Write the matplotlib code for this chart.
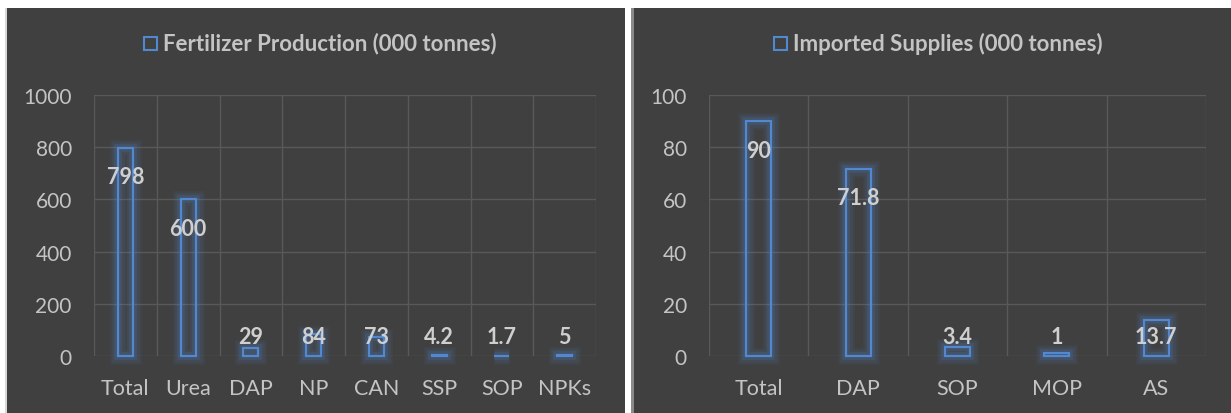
import matplotlib
matplotlib.use('Agg')
import matplotlib.pyplot as plt
from matplotlib import patheffects as pe
from matplotlib.patches import Rectangle

# ---- data ----
prod_categories = ['Total', 'Urea', 'DAP', 'NP', 'CAN', 'SSP', 'SOP', 'NPKs']
prod_values = [798, 600, 29, 84, 73, 4.2, 1.7, 5]
prod_labels = ['798', '600', '29', '84', '73', '4.2', '1.7', '5']
prod_yticks = [0, 200, 400, 600, 800, 1000]
prod_title = 'Fertilizer Production (000 tonnes)'

imp_categories = ['Total', 'DAP', 'SOP', 'MOP', 'AS']
imp_values = [90, 71.8, 3.4, 1, 13.7]
imp_labels = ['90', '71.8', '3.4', '1', '13.7']
imp_yticks = [0, 20, 40, 60, 80, 100]
imp_title = 'Imported Supplies (000 tonnes)'

# ---- style ----
W, H = 1231, 414
BG = '#404040'
GRID = '#595959'
TXT = '#c4c4c4'
LBL = '#cfcfcf'
BLUE = '#5288cf'
FONT = ['Lato', 'DejaVu Sans']
plt.rcParams['font.family'] = FONT

fig = plt.figure(figsize=(W / 100, H / 100), dpi=100, facecolor='white')


def fx(px):
    return px / W


def fy(py):  # py measured from top
    return 1 - py / H


# panels
fig.patches.append(Rectangle((fx(5), 0), fx(2), fy(9), transform=fig.transFigure,
                             facecolor='#d8d8d8', edgecolor='none', zorder=-11))
fig.patches.append(Rectangle((fx(7), 0), fx(625 - 7), fy(9), transform=fig.transFigure,
                             facecolor=BG, edgecolor='none', zorder=-10))
fig.patches.append(Rectangle((fx(631), 0), fx(3), fy(9), transform=fig.transFigure,
                             facecolor='#8a8a8a', edgecolor='none', zorder=-11))
fig.patches.append(Rectangle((fx(634), 0), fx(W - 634), fy(9), transform=fig.transFigure,
                             facecolor=BG, edgecolor='none', zorder=-10))

glow = [pe.Stroke(linewidth=12, foreground=BLUE, alpha=0.06),
        pe.Stroke(linewidth=9, foreground=BLUE, alpha=0.10),
        pe.Stroke(linewidth=5.5, foreground=BLUE, alpha=0.16),
        pe.Normal()]


def make_panel(rect, cats, vals, labels, yticks, title, title_sq_x, title_txt_x,
               bar_w, ylab_pad):
    ax = fig.add_axes(rect)
    ax.set_facecolor('none')
    n = len(cats)
    x = list(range(n))
    ax.set_xlim(-0.5, n - 0.5)
    ax.set_ylim(yticks[0], yticks[-1])
    ax.set_yticks(yticks)
    ax.set_yticklabels([str(t) for t in yticks])
    ax.set_xticks(x)
    ax.set_xticklabels(cats)
    ax.set_xticks([i - 0.5 for i in range(n + 1)], minor=True)
    ax.tick_params(axis='both', which='both', length=0, colors=TXT)
    ax.tick_params(axis='y', pad=ylab_pad, labelsize=15)
    ax.tick_params(axis='x', pad=16, labelsize=15.5)
    for s in ax.spines.values():
        s.set_visible(False)
    ax.set_axisbelow(True)
    ax.yaxis.grid(True, color=GRID, linewidth=1)
    ax.xaxis.grid(True, which='minor', color=GRID, linewidth=1)
    ax.xaxis.grid(False, which='major')

    bars = ax.bar(x, vals, width=bar_w, facecolor='none', edgecolor=BLUE,
                  linewidth=1.6, zorder=3)
    for b in bars:
        b.set_path_effects(glow)
        b.set_clip_on(False)

    ppu = ax.transData.transform((0, 1))[1] - ax.transData.transform((0, 0))[1]
    for i, (v, t) in enumerate(zip(vals, labels)):
        off = max(v * ppu - 29, 20)
        ax.annotate(t, xy=(i, 0), xytext=(0, off), textcoords='offset pixels',
                    ha='center', va='center', fontsize=15.5, fontweight='bold',
                    color=LBL, zorder=5)

    fig.text(fx(title_txt_x), fy(44), title, ha='left', va='center',
             fontsize=16, fontweight='bold', color=TXT)
    fig.patches.append(Rectangle((fx(title_sq_x), fy(51)), fx(13), 13 / H,
                                 transform=fig.transFigure, facecolor='none',
                                 edgecolor=BLUE, linewidth=1.5, zorder=5))
    return ax


make_panel([fx(94), fy(357), fx(596 - 94), (357 - 96) / H],
           prod_categories, prod_values, prod_labels, prod_yticks, prod_title,
           144, 163, 0.24, 16)
make_panel([fx(709), fy(357), fx(1206 - 709), (357 - 96) / H],
           imp_categories, imp_values, imp_labels, imp_yticks, imp_title,
           774, 793, 0.25, 16)

fig.savefig('out.png', dpi=100, facecolor='white')
